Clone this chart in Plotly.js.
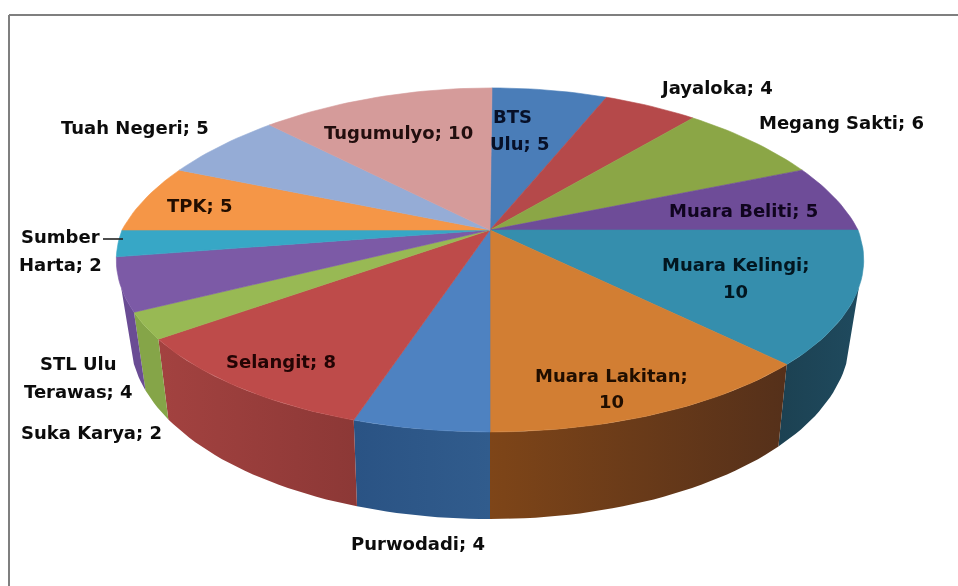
<!DOCTYPE html>
<html>
<head>
<meta charset="utf-8">
<script src="https://cdn.plot.ly/plotly-3.0.1.min.js"></script>
<style>
html,body{margin:0;padding:0;background:#fff;overflow:hidden}
#chart{width:958px;height:586px;filter:blur(0.7px)}
</style>
</head>
<body>
<div id="chart"></div>
<script>
// Data
const categories = ["BTS Ulu","Jayaloka","Megang Sakti","Muara Beliti","Muara Kelingi","Muara Lakitan","Purwodadi","Selangit","Suka Karya","STL Ulu Terawas","Sumber Harta","TPK","Tuah Negeri","Tugumulyo"];
const values = [5,4,6,5,10,10,4,8,2,4,2,5,5,10];
const topColors = ["#4A7DB8","#B5494A","#8BA646","#6E4C98","#358EAD","#D27E33","#4E82C1","#BE4B4A","#98B954","#7C5AA6","#37A7C6","#F59647","#95ACD6","#D59B9A"];
const wallLeft  = ["#2C5580","#7E3230","#5F7230","#4A3468","#1C4152","#7E4518","#2A5384","#A34240","#85A548","#6A4C94","#2A7F98","#B06A30","#6A7CA0","#A06E6E"];
const wallRight = ["#2C5580","#7E3230","#5F7230","#4A3468","#1F4A5E","#55301A","#315C8D","#8C3836","#85A548","#6A4C94","#2A7F98","#B06A30","#6A7CA0","#A06E6E"];

// Text labels (one entry per drawn line) and their anchor points
const labelTexts = ["BTS","Ulu; 5","Jayaloka; 4","Megang Sakti; 6","Muara Beliti; 5","Muara Kelingi;","10","Muara Lakitan;","10","Purwodadi; 4","Selangit; 8","Suka Karya; 2","STL Ulu","Terawas; 4","Sumber","Harta; 2","TPK; 5","Tuah Negeri; 5","Tugumulyo; 10"];
const labelXs = [512,520,716,841,743,735,735,611,611,418,281,91,78,78,60,60,199,135,398];
const labelYs = [116,143,87,122,210,264,291,375,401,543,361,432,363,391,236,264,205,127,132];
const labelColors = ["#071028","#071028","#0c0c0c","#0c0c0c","#10051f","#021620","#021620","#200e00","#200e00","#0c0c0c","#220404","#0c0c0c","#0c0c0c","#0c0c0c","#0c0c0c","#0c0c0c","#220e00","#0c0c0c","#220e0e"];

// Perspective projection of the pie disc, in page-sized axis units
const CX = 490, CY = 230, RX = 368, RY = 166.8, PERSP = 0.174;
const DEPTH = 72, WALL_FROM = 109, WALL_TO = 251;
function xOf(u,v,f){
  return RX*u*f*(1+0.06*Math.min(v,0)) + 2*Math.max(-v,0);
}
function topPt(deg){
  const t = deg*Math.PI/180, u = Math.sin(t), v = -Math.cos(t), f = 1/(1-PERSP*v);
  return [CX+xOf(u,v,f), CY+RY*v*f];
}
function botPt(deg){
  const t = deg*Math.PI/180, u = Math.sin(t), v = -Math.cos(t), f = 1/(1-PERSP*v);
  const s = 0.96+0.017*Math.max(v,0);
  return [CX+xOf(u,v,f)*s, CY+RY*v*f+DEPTH*f];
}
function arc(fn,a,b){
  const n = Math.max(2,Math.ceil(Math.abs(b-a)/1.5)), pts=[];
  for(let i=0;i<=n;i++) pts.push(fn(a+(b-a)*i/n));
  return pts;
}
const total = values.reduce((s,v)=>s+v,0);
const sectors = []; let acc = 0;
values.forEach((v,i)=>{
  const a = acc/total*360; acc += v; const b = acc/total*360;
  sectors.push({i,a,b,mid:(a+b)/2});
});

const traces = [];
// side walls: only the part of the rim that faces the viewer
sectors.forEach(s=>{
  const a = Math.max(s.a,WALL_FROM), b = Math.min(s.b,WALL_TO);
  if(b<=a) return;
  const pts = arc(topPt,a,b).concat(arc(botPt,b,a));
  pts.push(pts[0]);
  traces.push({type:"scatter",mode:"lines",x:pts.map(p=>p[0]),y:pts.map(p=>p[1]),
    fill:"toself",line:{width:0},hoverinfo:"skip",showlegend:false,
    fillcolor:wallLeft[s.i],
    fillgradient:{type:"horizontal",colorscale:[[0,wallLeft[s.i]],[1,wallRight[s.i]]]}});
});
// top faces
sectors.forEach(s=>{
  const pts = [[CX,CY]].concat(arc(topPt,s.a,s.b)); pts.push([CX,CY]);
  traces.push({type:"scatter",mode:"lines",x:pts.map(p=>p[0]),y:pts.map(p=>p[1]),
    fill:"toself",fillcolor:topColors[s.i],line:{width:0.6,color:topColors[s.i]},
    name:categories[s.i],text:categories[s.i]+"; "+values[s.i],hoverinfo:"text",showlegend:false});
});
// Sumber Harta leader
traces.push({type:"scatter",mode:"lines",x:[103,123],y:[239,239],line:{color:"#222",width:1.6},hoverinfo:"skip",showlegend:false});

const annotations = labelTexts.map((t,i)=>({
  text:t,x:labelXs[i],y:labelYs[i],xref:"x",yref:"y",showarrow:false,xanchor:"center",yanchor:"middle",
  font:{family:"DejaVu Sans, sans-serif",size:18,weight:700,color:labelColors[i]}
}));

const layout = {
  width:958,height:586,margin:{l:0,r:0,t:0,b:0},
  paper_bgcolor:"#fff",plot_bgcolor:"#fff",showlegend:false,
  xaxis:{range:[0,958],visible:false,fixedrange:true},
  yaxis:{range:[586,0],visible:false,fixedrange:true},
  annotations,
  shapes:[
    {type:"line",xref:"x",yref:"y",x0:9,y0:15,x1:958,y1:15,line:{color:"#7f7f7f",width:2}},
    {type:"line",xref:"x",yref:"y",x0:9,y0:15,x1:9,y1:586,line:{color:"#7f7f7f",width:2}}
  ]
};
Plotly.newPlot("chart",traces,layout,{displayModeBar:false});
</script>
</body>
</html>
